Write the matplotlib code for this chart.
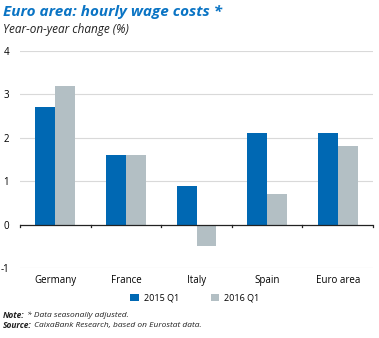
import matplotlib
matplotlib.use("Agg")
import matplotlib.pyplot as plt
import numpy as np

categories = ["Germany", "France", "Italy", "Spain", "Euro area"]
q1_2015 = [2.7, 1.6, 0.9, 2.1, 2.1]
q1_2016 = [3.2, 1.6, -0.5, 0.7, 1.8]
series_labels = ["2015 Q1", "2016 Q1"]
yticks = [-1, 0, 1, 2, 3, 4]

BLUE = "#0068b3"
GREY = "#b3bfc4"

plt.rcParams["font.family"] = ["Open Sans", "DejaVu Sans"]

fig = plt.figure(figsize=(3.79, 3.38), dpi=100)
ax = fig.add_axes([20 / 379, 1 - 268 / 338, 353 / 379, (268 - 51) / 338])

x = np.arange(len(categories))
w = 0.283
ax.bar(x - w / 2, q1_2015, w, color=BLUE, label=series_labels[0], zorder=3)
ax.bar(x + w / 2, q1_2016, w, color=GREY, label=series_labels[1], zorder=3)

ax.set_xlim(-0.5, len(categories) - 0.5)
ax.set_ylim(-1, 4)
ax.set_yticks(yticks)
ax.set_yticklabels([str(t) for t in yticks], fontsize=7)
for t in yticks:
    if t != 0:
        ax.axhline(t, color="#d9d9d9", lw=0.8, zorder=1)
ax.axhline(0, color="#222222", lw=0.9, zorder=4)

# small ticks on the zero line at category boundaries
for b in np.arange(-0.5, len(categories), 1.0):
    ax.plot([b, b], [0, -0.06], color="#222222", lw=0.9, zorder=4, clip_on=False)

for s in ax.spines.values():
    s.set_visible(False)
ax.tick_params(axis="y", length=0, pad=8)
ax.tick_params(axis="x", length=0, pad=5)
ax.set_xticks(x)
ax.set_xticklabels(categories, fontsize=7)

fig.text(3 / 379, 1 - 12 / 338, "Euro area: hourly wage costs *", fontsize=11,
         fontweight="bold", style="italic", color="#0a74c4", va="center")
fig.text(3 / 379, 1 - 29 / 338, "Year-on-year change (%)", fontsize=8.5,
         style="italic", color="#222222", va="center")

fig.legend(loc="center", bbox_to_anchor=(195 / 379, 1 - 298 / 338), ncol=2,
           frameon=False, fontsize=6.5, handlelength=0.9, handleheight=0.9,
           columnspacing=3.5, handletextpad=0.6)

# footnotes: bold italic label followed by italic text
fig.canvas.draw()
renderer = fig.canvas.get_renderer()
for label, rest, ypx in [("Note:", " * Data seasonally adjusted.", 315),
                         ("Source:", " CaixaBank Research, based on Eurostat data.", 326)]:
    t = fig.text(3 / 379, 1 - ypx / 338, label, fontsize=6, style="italic",
                 fontweight="bold", va="center", color="#222222")
    bb = t.get_window_extent(renderer)
    fig.text(bb.x1 / fig.bbox.width, 1 - ypx / 338, rest, fontsize=6, style="italic",
             va="center", color="#222222")

fig.savefig("out.png", dpi=100)
